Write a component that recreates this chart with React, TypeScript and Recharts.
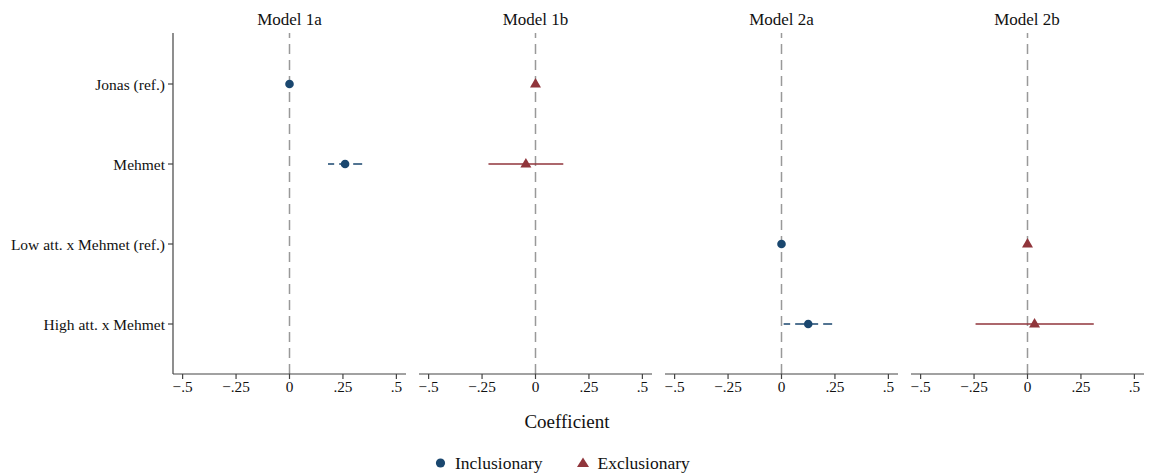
import React from 'react';
import { ScatterChart, Scatter, XAxis, YAxis, ReferenceLine } from 'recharts';

// ---------- data ----------
const categories = ['Jonas (ref.)', 'Mehmet', 'Low att. x Mehmet (ref.)', 'High att. x Mehmet'];
const rowPositions = [1, 2, 3, 4];
const modelTitles = ['Model 1a', 'Model 1b', 'Model 2a', 'Model 2b'];
const xTicks = [-0.5, -0.25, 0, 0.25, 0.5];
const xTickLabels = ['\u2212.5', '\u2212.25', '0', '.25', '.5'];
const seriesNames = ['Inclusionary', 'Exclusionary'];

// Model 1a – inclusionary
const model1aCoef = [
  { row: 1, coef: 0 },
  { row: 2, coef: 0.26 },
];
const model1aCI = [{ row: 2, lo: 0.18, hi: 0.34 }];

// Model 1b – exclusionary
const model1bCoef = [
  { row: 1, coef: 0 },
  { row: 2, coef: -0.045 },
];
const model1bCI = [{ row: 2, lo: -0.22, hi: 0.13 }];

// Model 2a – inclusionary
const model2aCoef = [
  { row: 3, coef: 0 },
  { row: 4, coef: 0.125 },
];
const model2aCI = [{ row: 4, lo: 0.01, hi: 0.237 }];

// Model 2b – exclusionary
const model2bCoef = [
  { row: 3, coef: 0 },
  { row: 4, coef: 0.033 },
];
const model2bCI = [{ row: 4, lo: -0.243, hi: 0.31 }];

// ---------- styling ----------
const BLUE = '#1a476f';
const RED = '#90353b';
const FONT = '"Liberation Serif", "DejaVu Serif", serif';
const X_DOMAIN: [number, number] = [-0.545, 0.545];
const Y_DOMAIN: [number, number] = [0.3625, 4.625];
const PLOT_W = 233;
const PLOT_TOP = 33;
const CHART_H = 409;
const plotLefts = [173, 419, 665, 910.5];

type Est = { row: number; coef: number };
type CI = { row: number; lo: number; hi: number };

const Circle = (color: string) => (p: any) => (
  <circle cx={p.cx} cy={p.cy} r={4.3} fill={color} />
);
const Triangle = (color: string) => (p: any) => (
  <path
    d={`M${p.cx},${p.cy - 6} L${p.cx + 5.5},${p.cy + 3.5} L${p.cx - 5.5},${p.cy + 3.5} Z`}
    fill={color}
  />
);
const Empty = () => <g />;

function Panel({
  index,
  coefs,
  cis,
  color,
  marker,
  dashed,
}: {
  index: number;
  coefs: Est[];
  cis: CI[];
  color: string;
  marker: 'circle' | 'triangle';
  dashed: boolean;
}) {
  const showY = index === 0;
  const yWidth = showY ? plotLefts[0] : 0;
  const mLeft = showY ? 0 : 5;
  const chartLeft = plotLefts[index] - yWidth - mLeft;
  const width = mLeft + yWidth + PLOT_W + 8;
  const pts = coefs.map((d) => ({ x: d.coef, y: d.row }));
  const shape = marker === 'circle' ? Circle(color) : Triangle(color);
  return (
    <div style={{ position: 'absolute', left: chartLeft, top: 0 }}>
      <ScatterChart
        width={width}
        height={CHART_H}
        margin={{ top: PLOT_TOP, right: 8, bottom: 5, left: mLeft }}
      >
        <XAxis
          type="number"
          dataKey="x"
          domain={X_DOMAIN}
          ticks={xTicks}
          allowDataOverflow
          tickFormatter={(v: number) => xTickLabels[xTicks.indexOf(v)] ?? String(v)}
          axisLine={{ stroke: '#444', strokeWidth: 1.2 }}
          tickLine={{ stroke: '#444', strokeWidth: 1.2 }}
          tickSize={5}
          tickMargin={2}
          height={30}
          tick={{ fill: '#111', fontSize: 15.3, fontFamily: FONT }}
          interval={0}
        />
        <YAxis
          type="number"
          dataKey="y"
          domain={Y_DOMAIN}
          reversed
          allowDataOverflow
          ticks={rowPositions}
          interval={0}
          hide={!showY}
          width={yWidth}
          tickFormatter={(v: number) => categories[rowPositions.indexOf(v)] ?? ''}
          axisLine={{ stroke: '#444', strokeWidth: 1.2 }}
          tickLine={{ stroke: '#444', strokeWidth: 1.2 }}
          tickSize={5}
          tickMargin={3}
          tick={{ fill: '#111', fontSize: 15.5, fontFamily: FONT }}
        />
        <ReferenceLine x={0} stroke="#999" strokeWidth={1.5} strokeDasharray="10 6" />
        {cis.map((c, i) => (
          <Scatter
            key={'ci' + i}
            data={[
              { x: c.hi, y: c.row },
              { x: c.lo, y: c.row },
            ]}
            line={{
              stroke: color,
              strokeWidth: 1.5,
              strokeDasharray: dashed ? '9 5' : undefined,
            }}
            lineType="joint"
            shape={Empty}
            isAnimationActive={false}
          />
        ))}
        <Scatter data={pts} shape={shape} isAnimationActive={false} />
      </ScatterChart>
    </div>
  );
}

export default function App() {
  const zeroX = plotLefts.map((l) => l + PLOT_W / 2);
  return (
    <div
      style={{
        position: 'absolute',
        left: 0,
        top: 0,
        width: 1152,
        height: 473,
        background: '#fff',
        fontFamily: FONT,
        color: '#111',
        overflow: 'hidden',
      }}
    >
      {modelTitles.map((t, i) => (
        <div
          key={t}
          style={{
            position: 'absolute',
            left: zeroX[i] - 80,
            width: 160,
            top: 9,
            textAlign: 'center',
            fontSize: 17,
            lineHeight: '22px',
          }}
        >
          {t}
        </div>
      ))}
      <Panel index={0} coefs={model1aCoef} cis={model1aCI} color={BLUE} marker="circle" dashed />
      <Panel index={1} coefs={model1bCoef} cis={model1bCI} color={RED} marker="triangle" dashed={false} />
      <Panel index={2} coefs={model2aCoef} cis={model2aCI} color={BLUE} marker="circle" dashed />
      <Panel index={3} coefs={model2bCoef} cis={model2bCI} color={RED} marker="triangle" dashed={false} />
      <div
        style={{
          position: 'absolute',
          left: 467,
          width: 200,
          top: 409,
          textAlign: 'center',
          fontSize: 19,
          lineHeight: '26px',
        }}
      >
        Coefficient
      </div>
      <div
        style={{
          position: 'absolute',
          left: 433,
          top: 451,
          height: 24,
          display: 'flex',
          alignItems: 'center',
          fontSize: 17.5,
          lineHeight: '24px',
          whiteSpace: 'nowrap',
        }}
      >
        <svg width={16} height={16} style={{ marginRight: 6 }}>
          <circle cx={7.5} cy={8} r={4.6} fill={BLUE} />
        </svg>
        <span>{seriesNames[0]}</span>
        <svg width={16} height={16} style={{ marginLeft: 33, marginRight: 6 }}>
          <path d="M8,2.5 L14,12 L2,12 Z" fill={RED} />
        </svg>
        <span>{seriesNames[1]}</span>
      </div>
    </div>
  );
}
